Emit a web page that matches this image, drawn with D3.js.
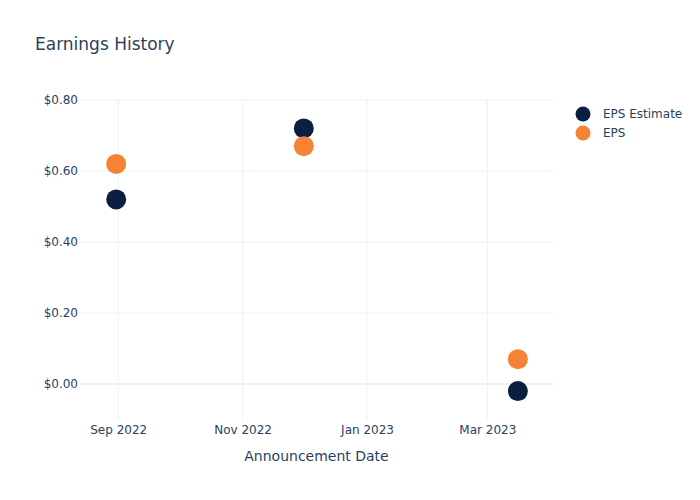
<!DOCTYPE html>
<html>
<head>
<meta charset="utf-8">
<script src="https://cdn.jsdelivr.net/npm/d3@7"></script>
<style>
  body { margin: 0; background: #fff; }
  svg, svg text { font-family: "DejaVu Sans", Verdana, sans-serif; }
</style>
</head>
<body>
<script>
// announcement dates and values
var dates = ["2022-08-31", "2022-12-01", "2023-03-16"];
var epsEstimate = [0.52, 0.72, -0.02];
var eps = [0.62, 0.67, 0.07];
var yTicks = [0, 0.2, 0.4, 0.6, 0.8];
var xTicks = ["2022-09-01", "2022-11-01", "2023-01-01", "2023-03-01"];
var seriesNames = ["EPS Estimate", "EPS"];
var seriesColors = ["#0b1f41", "#f58235"];

var W = 700, H = 500;
var margin = {top: 100, right: 147, bottom: 80, left: 80};
var textColor = "#2a3f5f", gridColor = "#ebf0f8";

var parse = d3.utcParse("%Y-%m-%d");

var svg = d3.select("body").append("svg")
    .attr("width", W)
    .attr("height", H);

var x = d3.scaleUtc()
    .domain([new Date(Date.UTC(2022, 7, 13, 6)), new Date(Date.UTC(2023, 3, 2, 5))])
    .range([margin.left, W - margin.right]);

var y = d3.scaleLinear()
    .domain([-0.1014, 0.8])
    .range([H - margin.bottom, margin.top]);

// grid
var grid = svg.append("g");
grid.selectAll(".vgrid")
    .data(xTicks)
  .enter().append("line")
    .attr("x1", function(d) { return x(parse(d)); })
    .attr("x2", function(d) { return x(parse(d)); })
    .attr("y1", margin.top)
    .attr("y2", H - margin.bottom)
    .style("stroke", gridColor)
    .style("stroke-width", 1);

grid.selectAll(".hgrid")
    .data(yTicks)
  .enter().append("line")
    .attr("x1", margin.left)
    .attr("x2", W - margin.right)
    .attr("y1", function(d) { return y(d); })
    .attr("y2", function(d) { return y(d); })
    .style("stroke", gridColor)
    .style("stroke-width", function(d) { return d === 0 ? 2 : 1; });

// axes (labels only, plotly style)
var xAxis = svg.append("g")
    .attr("transform", "translate(0," + (H - margin.bottom) + ")")
    .call(d3.axisBottom(x)
      .tickValues(xTicks.map(parse))
      .tickFormat(d3.utcFormat("%b %Y"))
      .tickSize(0)
      .tickPadding(5));
xAxis.attr("font-family", null);
xAxis.select(".domain").remove();
xAxis.selectAll("text")
    .style("fill", textColor)
    .style("font-size", "12px");

var yAxis = svg.append("g")
    .attr("transform", "translate(" + margin.left + ",0)")
    .call(d3.axisLeft(y)
      .tickValues(yTicks)
      .tickFormat(function(d) { return "$" + d3.format(".2f")(d); })
      .tickSize(0)
      .tickPadding(2));
yAxis.attr("font-family", null);
yAxis.select(".domain").remove();
yAxis.selectAll("text")
    .style("fill", textColor)
    .style("font-size", "12px");

// axis title
svg.append("text")
    .attr("x", (margin.left + W - margin.right) / 2)
    .attr("y", 461)
    .attr("text-anchor", "middle")
    .style("fill", textColor)
    .style("font-size", "14px")
    .text("Announcement Date");

// chart title
svg.append("text")
    .attr("x", 35)
    .attr("y", 50)
    .style("fill", textColor)
    .style("font-size", "17px")
    .text("Earnings History");

// points
var series = [epsEstimate, eps];
series.forEach(function(vals, i) {
  svg.append("g").selectAll("circle")
      .data(vals)
    .enter().append("circle")
      .attr("cx", function(d, j) { return x(parse(dates[j])); })
      .attr("cy", function(d) { return y(d); })
      .attr("r", 10)
      .style("fill", seriesColors[i]);
});

// legend
var legend = svg.append("g")
    .attr("transform", "translate(583,114)");
var item = legend.selectAll("g")
    .data(seriesNames)
  .enter().append("g")
    .attr("transform", function(d, i) { return "translate(0," + (i * 19) + ")"; });
item.append("circle")
    .attr("r", 7.5)
    .style("fill", function(d, i) { return seriesColors[i]; });
item.append("text")
    .attr("x", 20)
    .attr("dy", "0.35em")
    .style("fill", textColor)
    .style("font-size", "12px")
    .text(function(d) { return d; });
</script>
</body>
</html>
